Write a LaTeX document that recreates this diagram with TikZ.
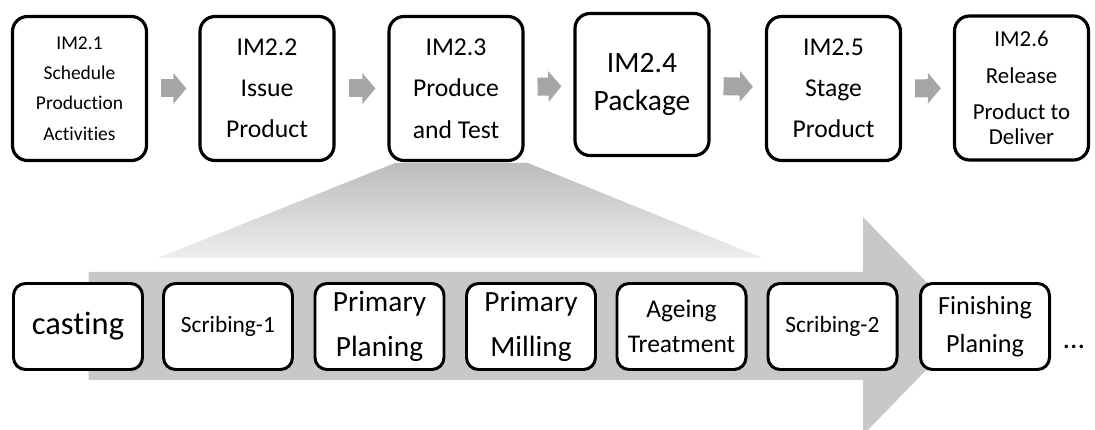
\documentclass[tikz,border=0pt]{standalone}
\usepackage{fontspec}
\setmainfont{Carlito}[Ligatures=NoCommon]
\usetikzlibrary{arrows.meta}

\definecolor{stepgray}{RGB}{166,166,166}
\definecolor{flowgray}{RGB}{200,200,200}
\definecolor{fantop}{RGB}{188,188,188}
\definecolor{fanbottom}{RGB}{238,238,238}

\tikzset{
	imbox/.style={draw, line width=1.8pt, rounded corners=0.3cm, fill=white,
		minimum width=2.68cm, minimum height=2.88cm, align=center, inner sep=0pt},
	stepbox/.style={draw, line width=1.7pt, rounded corners=0.24cm, fill=white,
		minimum width=2.58cm, minimum height=1.72cm, align=center, inner sep=0pt},
	blockarrow/.style={stepgray, line width=0.36cm, shorten <=0.26cm, shorten >=0.24cm,
		-{Triangle[length=0.26cm,width=0.6cm]}}
}

\begin{document}
\begin{tikzpicture}
		\useasboundingbox (0,0) rectangle (21.9,8.6);
		% zoom from IM2.3 down to the steps
		\shade[top color=fantop, bottom color=fanbottom] (7.9,5.34) -- (10.56,5.34) -- (15.26,3.44) -- (3.16,3.44) -- cycle;
		% big flow arrow behind the steps
		\fill[flowgray] (1.77,3.16) -- (17.26,3.16) -- (17.26,4.26) -- (19.38,2.08) -- (17.26,-0.1) -- (17.26,1.0) -- (1.77,1.0) -- cycle;
		% top row
		\node[imbox, font=\fontsize{11.1}{17.2}\selectfont] (im1) at (1.59,6.83) {IM2.1\\Schedule\\Production\\Activities};
		\node[imbox, font=\fontsize{14.6}{23.3}\selectfont] (im2) at (5.34,6.83) {IM2.2\\Issue\\Product};
		\node[imbox, font=\fontsize{14.6}{23.6}\selectfont] (im3) at (9.12,6.83) {IM2.3\\Produce\\and Test};
		\node[imbox, font=\fontsize{16.8}{21.9}\selectfont, minimum height=2.84cm] (im4) at (12.84,6.91) {IM2.4\\Package};
		\node[imbox, font=\fontsize{14.6}{23.3}\selectfont] (im5) at (16.67,6.83) {IM2.5\\Stage\\Product};
		\node[imbox, font=\fontsize{13}{20.8}\selectfont] (im6) at (20.43,6.84) {IM2.6\\Release\\Product to\\[-6.6pt]Deliver};
		\draw[blockarrow] (im1) -- (im2);
		\draw[blockarrow] (im2) -- (im3);
		\draw[blockarrow] (im3) -- (im4);
		\draw[blockarrow] (im4) -- (im5);
		\draw[blockarrow] (im5) -- (im6);
		% bottom row
		\node[stepbox, font=\fontsize{18.5}{22}\selectfont] (cast) at (1.56,2.07) {casting};
		\node[stepbox, font=\fontsize{13.3}{16}\selectfont] (scrib1) at (4.56,2.07) {Scribing-1};
		\node[stepbox, font=\fontsize{16.7}{25.6}\selectfont] (pplan) at (7.59,2.07) {Primary\\Planing};
		\node[stepbox, font=\fontsize{16.7}{25.6}\selectfont] (pmill) at (10.62,2.07) {Primary\\Milling};
		\node[stepbox, font=\fontsize{14.5}{20}\selectfont] (ageing) at (13.63,2.07) {Ageing\\Treatment};
		\node[stepbox, font=\fontsize{13.3}{16}\selectfont] (scrib2) at (16.65,2.07) {Scribing-2};
		\node[stepbox, font=\fontsize{14.9}{22}\selectfont] (fplan) at (19.7,2.07) {Finishing\\Planing};
		\node[font=\fontsize{17}{20}\selectfont, anchor=base] (more) at (21.48,1.62) {\ldots};
	\end{tikzpicture}
\end{document}
